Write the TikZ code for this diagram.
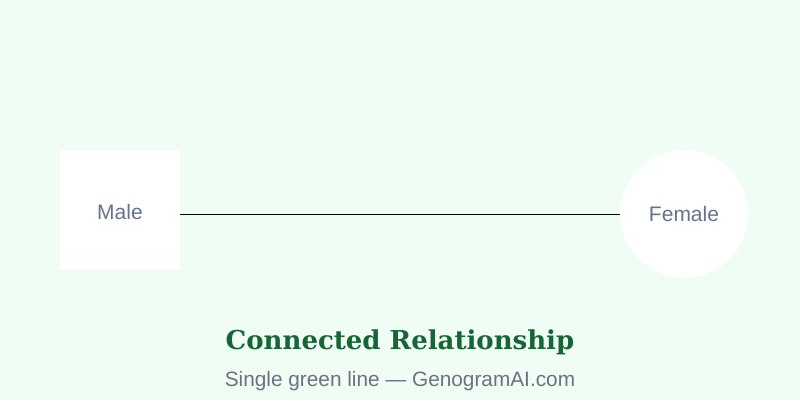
\documentclass[tikz,border=0pt]{standalone}
\usepackage{fontspec}
\setmainfont{Liberation Sans}
\newfontfamily\titlefont{DejaVu Serif}
\usepackage{tikz}
\definecolor{pagebg}{HTML}{F0FDF4}
\definecolor{labelgray}{HTML}{64748B}
\definecolor{titlegreen}{HTML}{166534}
\definecolor{subgray}{HTML}{6B7280}
\tikzstyle{male} = [rectangle, minimum width = 120pt, minimum height = 120pt,
	inner sep = 0pt, text height = 19pt, text depth = 0pt,
	fill = white, text = labelgray, font = \fontsize{21}{24}\selectfont]
\tikzstyle{female} = [circle, minimum size = 128pt,
	inner sep = 0pt, fill = white, text = labelgray, font = \fontsize{21}{24}\selectfont]
\tikzstyle{partnerline} = [draw = black, line width = 0.75pt]

\begin{document}
\begin{tikzpicture}[x = 1pt, y = -1pt]

\fill [pagebg] (0,0) rectangle (800,400);
\useasboundingbox (0,0) rectangle (800,400);

\node (partner0) [male] at (120,210) {Male};
\node (partner1) [female] at (684,214) {Female};

\draw [partnerline] (partner0.east |- partner1.west) -- (partner1.west);

\node (title) [anchor = base, text = titlegreen,
	font = \titlefont\bfseries\fontsize{26}{30}\selectfont] at (400,349)
	{Connected Relationship};
\node (subtitle) [anchor = base, text = subgray,
	font = \fontsize{20.8}{24}\selectfont] at (400,386)
	{Single green line — GenogramAI.com};

\end{tikzpicture}
\end{document}
